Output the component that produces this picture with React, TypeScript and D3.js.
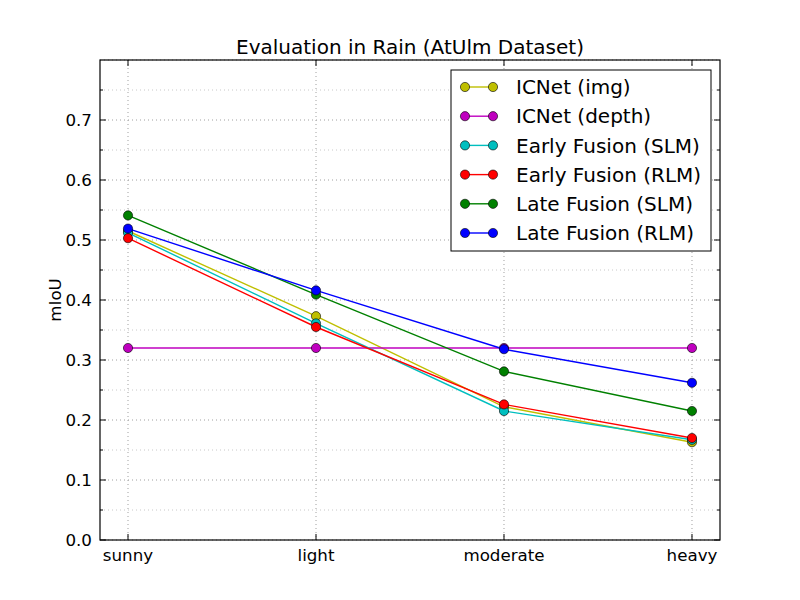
import React from "react";
import * as d3 from "d3";

const categories = ["sunny", "light", "moderate", "heavy"];
const seriesNames = [
  "ICNet (img)",
  "ICNet (depth)",
  "Early Fusion (SLM)",
  "Early Fusion (RLM)",
  "Late Fusion (SLM)",
  "Late Fusion (RLM)",
];
const icnetImg = [0.515, 0.373, 0.222, 0.163];
const icnetDepth = [0.32, 0.32, 0.32, 0.32];
const earlySLM = [0.512, 0.361, 0.215, 0.167];
const earlyRLM = [0.503, 0.355, 0.226, 0.17];
const lateSLM = [0.541, 0.409, 0.281, 0.215];
const lateRLM = [0.519, 0.416, 0.318, 0.262];
const seriesValues = [icnetImg, icnetDepth, earlySLM, earlyRLM, lateSLM, lateRLM];
const seriesColors = ["#bfbf00", "#bf00bf", "#00bfbf", "#ff0000", "#008000", "#0000ff"];
const yTicks = [0, 0.1, 0.2, 0.3, 0.4, 0.5, 0.6, 0.7];
const yMinor = [0.05, 0.15, 0.25, 0.35, 0.45, 0.55, 0.65, 0.75];

const W = 800, H = 600;
const L = 100, R = 720, T = 60, B = 540;
const FONT = "DejaVu Sans, sans-serif";

export default function App() {
  const x = d3.scaleLinear().domain([-0.149, 3.149]).range([L, R]);
  const y = d3.scaleLinear().domain([0, 0.8]).range([B, T]);
  const line = d3.line<number>().x((_, i) => x(i)).y((v) => y(v));

  const legX = 451, legY = 70, legW = 260, legH = 181;
  const rowH = 29.2;

  return (
    <svg width={W} height={H} style={{ position: "absolute", left: 0, top: 0 }}>
      <rect x={0} y={0} width={W} height={H} fill="#ffffff" />
      <rect x={L} y={T} width={R - L} height={B - T} fill="#ffffff" />
      {/* grid */}
      {[...yTicks, 0.8].map((t, i) => (
        <line key={"gy" + i} x1={L} x2={R} y1={y(t)} y2={y(t)} stroke="#a0a0a0" strokeWidth={1} strokeDasharray="1,3" />
      ))}
      {yMinor.map((t, i) => (
        <line key={"gm" + i} x1={L} x2={R} y1={y(t)} y2={y(t)} stroke="#c8c8c8" strokeWidth={1} strokeDasharray="1,3" />
      ))}
      {categories.map((c, i) => (
        <line key={"gx" + i} x1={x(i)} x2={x(i)} y1={T} y2={B} stroke="#a0a0a0" strokeWidth={1} strokeDasharray="1,3" />
      ))}
      {/* series */}
      {seriesValues.map((vals, si) => (
        <g key={"s" + si}>
          <path d={line(vals) || ""} fill="none" stroke={seriesColors[si]} strokeWidth={1.4} />
          {vals.map((v, i) => (
            <circle key={i} cx={x(i)} cy={y(v)} r={4.6} fill={seriesColors[si]} stroke="#000" strokeWidth={0.6} />
          ))}
        </g>
      ))}
      {/* ticks */}
      {yTicks.map((t, i) => (
        <g key={"yt" + i}>
          <line x1={L} x2={L + 6} y1={y(t)} y2={y(t)} stroke="#000" />
          <line x1={R} x2={R - 6} y1={y(t)} y2={y(t)} stroke="#000" />
          <text x={L - 8} y={y(t)} dy="0.35em" textAnchor="end" fontSize={16.7} fontFamily={FONT}>
            {t.toFixed(1)}
          </text>
        </g>
      ))}
      {yMinor.map((t, i) => (
        <g key={"ym" + i}>
          <line x1={L} x2={L + 3} y1={y(t)} y2={y(t)} stroke="#000" />
          <line x1={R} x2={R - 3} y1={y(t)} y2={y(t)} stroke="#000" />
        </g>
      ))}
      {categories.map((c, i) => (
        <g key={"xt" + i}>
          <line x1={x(i)} x2={x(i)} y1={B} y2={B - 6} stroke="#000" />
          <line x1={x(i)} x2={x(i)} y1={T} y2={T + 6} stroke="#000" />
          <text x={x(i)} y={B + 8} dy="0.8em" textAnchor="middle" fontSize={16.7} fontFamily={FONT}>
            {c}
          </text>
        </g>
      ))}
      <rect x={L} y={T} width={R - L} height={B - T} fill="none" stroke="#000" strokeWidth={1.2} />
      {/* title & label */}
      <text x={(L + R) / 2} y={54} textAnchor="middle" fontSize={20} fontFamily={FONT}>
        Evaluation in Rain (AtUlm Dataset)
      </text>
      <text transform={`translate(61,${(T + B) / 2}) rotate(-90)`} textAnchor="middle" fontSize={16.7} fontFamily={FONT}>
        mIoU
      </text>
      {/* legend */}
      <rect x={legX} y={legY} width={legW} height={legH} fill="#fff" stroke="#000" strokeWidth={1} />
      {seriesNames.map((n, i) => {
        const cy = legY + 17 + i * rowH;
        return (
          <g key={"lg" + i}>
            <line x1={465} x2={493} y1={cy} y2={cy} stroke={seriesColors[i]} strokeWidth={1.4} />
            <circle cx={465} cy={cy} r={4.6} fill={seriesColors[i]} stroke="#000" strokeWidth={0.6} />
            <circle cx={493} cy={cy} r={4.6} fill={seriesColors[i]} stroke="#000" strokeWidth={0.6} />
            <text x={516} y={cy} dy="0.36em" fontSize={20} fontFamily={FONT}>
              {n}
            </text>
          </g>
        );
      })}
    </svg>
  );
}
